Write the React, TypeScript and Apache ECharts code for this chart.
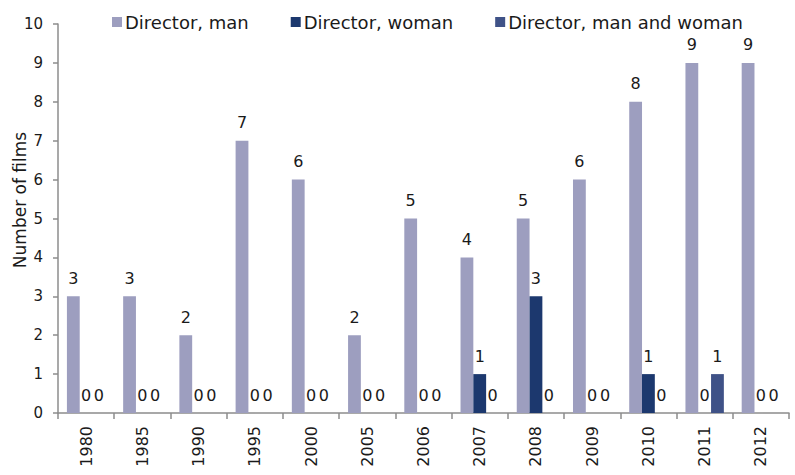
import React, { useEffect, useRef } from "react";
import * as echarts from "echarts";

const years = ["1980", "1985", "1990", "1995", "2000", "2005", "2006", "2007", "2008", "2009", "2010", "2011", "2012"];
const directorMan = [3, 3, 2, 7, 6, 2, 5, 4, 5, 6, 8, 9, 9];
const directorWoman = [0, 0, 0, 0, 0, 0, 0, 1, 3, 0, 1, 0, 0];
const directorBoth = [0, 0, 0, 0, 0, 0, 0, 0, 0, 0, 0, 1, 0];
const yTicks = [0, 1, 2, 3, 4, 5, 6, 7, 8, 9, 10];
const yName = "Number of films";

const FONT = "'DejaVu Sans', sans-serif";
const TXT = "#1a1a1a";
const AX = "#8c8c8c";

export default function App() {
  const ref = useRef<HTMLDivElement>(null);
  useEffect(() => {
    if (!ref.current) return;
    const chart = echarts.init(ref.current, undefined, { renderer: "svg" });
    const label = {
      show: true,
      position: "top" as const,
      distance: 10,
      color: TXT,
      fontSize: 16,
      fontFamily: FONT,
    };
    const mk = (name: string, data: number[], color: string) => ({
      name,
      type: "bar" as const,
      data,
      barWidth: 12.8,
      barGap: "0%",
      itemStyle: { color },
      label,
    });
    chart.setOption({
      animation: false,
      textStyle: { fontFamily: FONT },
      legend: {
        top: 8,
        left: 107,
        itemWidth: 10,
        itemHeight: 10,
        itemGap: 42,
        icon: "rect",
        textStyle: { fontSize: 18, color: TXT, fontFamily: FONT, padding: [0, 0, 0, -2] },
        data: ["Director, man", "Director, woman", "Director, man and woman"],
      },
      graphic: [
        {
          type: "text",
          x: 20,
          y: 200,
          rotation: Math.PI / 2,
          style: {
            text: yName,
            fontSize: 17,
            fontFamily: FONT,
            fill: TXT,
            align: "center",
            verticalAlign: "middle",
          },
        },
      ],
      grid: { left: 58, right: 6, top: 24, bottom: 62 },
      xAxis: {
        type: "category",
        data: years,
        axisLine: { lineStyle: { color: AX, width: 1.5 } },
        axisTick: { show: true, length: 6, lineStyle: { color: AX, width: 1.5 } },
        axisLabel: { rotate: 90, color: TXT, fontSize: 16, fontFamily: FONT, margin: 13 },
      },
      yAxis: {
        type: "value",
        min: yTicks[0],
        max: yTicks[yTicks.length - 1],
        interval: 1,
        axisLine: { show: true, lineStyle: { color: AX, width: 1.5 } },
        axisTick: { show: true, length: 5, lineStyle: { color: AX, width: 1.5 } },
        splitLine: { show: false },
        axisLabel: { color: TXT, fontSize: 15, fontFamily: FONT, margin: 15 },
      },
      series: [
        mk("Director, man", directorMan, "#9d9ebf"),
        mk("Director, woman", directorWoman, "#1c386e"),
        mk("Director, man and woman", directorBoth, "#3f5287"),
      ],
    });
    return () => chart.dispose();
  }, []);
  return <div ref={ref} style={{ width: 795, height: 475, position: "absolute", left: 0, top: 0 }} />;
}
